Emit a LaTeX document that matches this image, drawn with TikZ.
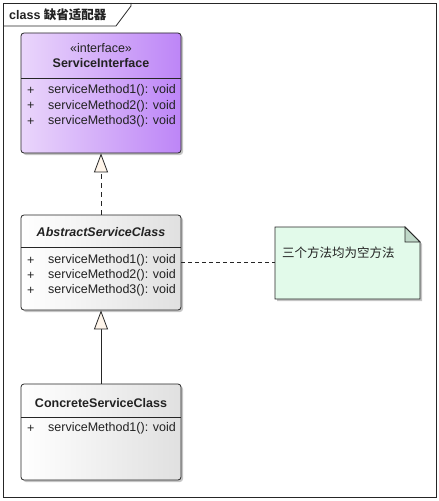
\documentclass[tikz,border=0pt]{standalone}
\usepackage{fontspec}
\setmainfont{Liberation Sans}
\newfontfamily\cjk{Noto Sans CJK SC}
\usetikzlibrary{arrows.meta,shadows}

\definecolor{ifaceleft}{HTML}{EAD6FB}
\definecolor{ifaceright}{HTML}{BD85F7}
\definecolor{classright}{HTML}{E0E0E0}
\definecolor{notefill}{HTML}{E2FAEA}
\definecolor{foldfill}{HTML}{BFD8C8}
\definecolor{tipfill}{HTML}{FFF5EA}
\definecolor{umltext}{HTML}{222222}

\tikzset{
  umlfont/.style={font=\fontsize{12.5bp}{14bp}\selectfont, text=umltext, inner sep=0pt},
  classbox/.style={draw=black!85, line width=0.8bp, rounded corners=3bp,
    minimum width=160bp, inner sep=0pt,
    drop shadow={shadow xshift=2bp, shadow yshift=-2bp, fill=black!45, opacity=0.5}},
  iface/.style={classbox, left color=ifaceleft, right color=ifaceright},
  plainclass/.style={classbox, left color=white, right color=classright},
  classname/.style={umlfont, font=\fontsize{12.5bp}{14bp}\selectfont\bfseries},
  member/.style={umlfont, anchor=west},
  divider/.style={draw=black!85, line width=0.8bp},
  realize/.style={draw=black!85, line width=0.8bp, dash pattern=on 5bp off 4bp,
    -{Triangle[length=19bp, width=14bp, fill=tipfill]}},
  generalize/.style={draw=black!85, line width=0.8bp,
    -{Triangle[length=19bp, width=14bp, fill=tipfill]}},
}

\begin{document}
\begin{tikzpicture}[x=1bp,y=-1bp]
  \useasboundingbox (0,0) rectangle (439,501);
  % frame
  \draw[black!85, line width=0.8bp] (3,3) rectangle (436,497);
  \draw[black!85, line width=0.8bp] (3,26) -- (116,26) -- (131,6) -- (131,3);
  \node[umlfont, anchor=west] (frametitle) at (9,15) {\bfseries class {\cjk\bfseries 缺省适配器}};

  % interface
  \node[iface, minimum height=120bp] (iface) at (101,93) {};
  \node[umlfont] (ifacestereo) at (101,48) {«interface»};
  \node[classname] (ifacename) at (101,63) {ServiceInterface};
  \draw[divider] (21,78) -- (181,78);
  \foreach \i/\y in {1/90.5,2/106,3/121.5} {
    \node[member] (ifaceplus\i) at (27,\y) {+};
    \node[member] (ifacem\i) at (48,\y) {serviceMethod\i(): void};
  }

  % abstract class
  \node[plainclass, minimum height=95bp] (abstract) at (101,262.5) {};
  \node[classname, font=\fontsize{12.5bp}{14bp}\selectfont\bfseries\itshape] (abstractname) at (101,232) {AbstractServiceClass};
  \draw[divider] (21,247) -- (181,247);
  \foreach \i/\y in {1/260.5,2/275.5,3/290.5} {
    \node[member] (abstractplus\i) at (27,\y) {+};
    \node[member] (abstractm\i) at (48,\y) {serviceMethod\i(): void};
  }

  % concrete class
  \node[plainclass, minimum height=96bp] (concrete) at (101,432) {};
  \node[classname] (concretename) at (101,403) {ConcreteServiceClass};
  \draw[divider] (21,417) -- (181,417);
  \node[member] (concreteplus1) at (27,428.5) {+};
  \node[member] (concretem1) at (48,428.5) {serviceMethod1(): void};

  % note
  \filldraw[draw=black!85, line width=0.8bp, fill=notefill,
    drop shadow={shadow xshift=2bp, shadow yshift=-2bp, fill=black!45, opacity=0.5}]
    (275,227) -- (405,227) -- (420,242) -- (420,299) -- (275,299) -- cycle;
  \filldraw[draw=black!85, line width=0.8bp, fill=foldfill] (405,227) -- (405,242) -- (420,242) -- cycle;
  \coordinate (notew) at (275,262.5);
  \node[umlfont, anchor=west] (notetext) at (282,253) {\cjk 三个方法均为空方法};

  % connectors
  \draw[realize] (abstract.north) -- (iface.south);
  \draw[generalize] (concrete.north) -- (abstract.south);
  \draw[black!85, line width=0.8bp, dash pattern=on 4bp off 3bp] (abstract.east) -- (notew);
\end{tikzpicture}
\end{document}
